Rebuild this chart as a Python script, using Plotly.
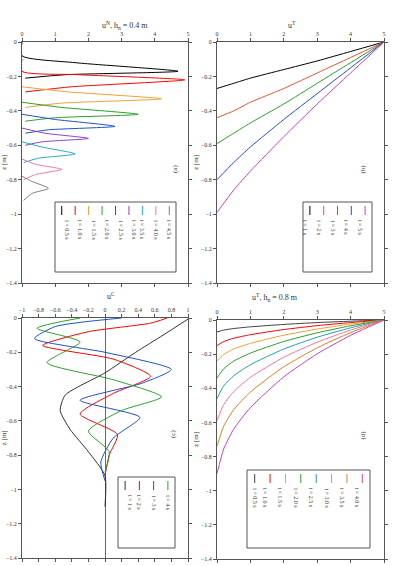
import plotly.graph_objects as go

# ---------------- data ----------------
# Panel (a): pulse profiles u^N(z)
a_names = ["t = 0.5 s", "t = 1.0 s", "t = 1.5 s", "t = 2.0 s", "t = 2.5 s",
           "t = 3.0 s", "t = 3.5 s", "t = 4.0 s", "t = 4.5 s"]
a_u = [
    [0, 0, 1.6, 4.7, 1.3, 0.1],
    [0, 0, 1.7, 4.9, 1.5, 0.1],
    [0, 1.4, 4.2, 1.2, 0.1],
    [0, 1.2, 3.5, 1.0, 0.1],
    [0, 1.0, 2.8, 0.8, 0.1],
    [0, 0.7, 2.0, 0.6, 0.1],
    [0, 0.6, 1.6, 0.5, 0.05],
    [0, 0.4, 1.2, 0.4, 0.05],
    [0, 0.3, 0.8, 0.3, 0.05],
]
a_z = [
    [0, -0.08, -0.12, -0.17, -0.19, -0.21],
    [-0.10, -0.17, -0.19, -0.22, -0.26, -0.29],
    [-0.26, -0.29, -0.33, -0.355, -0.38],
    [-0.35, -0.38, -0.42, -0.44, -0.46],
    [-0.42, -0.45, -0.49, -0.51, -0.53],
    [-0.50, -0.53, -0.56, -0.58, -0.60],
    [-0.58, -0.61, -0.65, -0.675, -0.70],
    [-0.68, -0.71, -0.74, -0.77, -0.80],
    [-0.78, -0.81, -0.85, -0.88, -0.92],
]
a_colors = ["black", "red", "#f0a030", "#2ca02c", "#1f4fd0", "#9040c0",
            "#20b0c0", "#ff70a0", "#808080"]

# Panel (b)
b_names = ["t = 1 s", "t = 2 s", "t = 3 s", "t = 4 s", "t = 5 s"]
b_u = [5, 4, 3, 2, 1, 0.5, 0]
b_z = [
    [0, -0.055, -0.11, -0.16, -0.21, -0.24, -0.27],
    [0, -0.09, -0.18, -0.27, -0.35, -0.40, -0.44],
    [0, -0.12, -0.24, -0.36, -0.47, -0.53, -0.59],
    [0, -0.15, -0.30, -0.45, -0.61, -0.70, -0.80],
    [0, -0.18, -0.36, -0.55, -0.75, -0.86, -0.99],
]
b_colors = ["black", "#f05030", "#2ca02c", "#1f4fd0", "#d040c0"]

# Panel (c)
c_names = ["t = 1 s", "t = 2 s", "t = 3 s", "t = 4 s"]
c_u = [
    [1.02, 0.70, 0.37, 0.0, -0.48, -0.54, -0.42, -0.20, 0.0, 0.0],
    [0.75, 0.55, -0.2, -0.75, 0.1, 0.55, 0.1, -0.30, 0.15, 0.05, 0],
    [0.2, -0.60, -0.85, 0.0, 0.80, 0.45, -0.30, 0.42, 0.10, -0.05, 0],
    [-0.3, -0.82, -0.3, -0.70, 0.1, 0.68, 0.2, -0.2, 0.05, 0],
]
c_z = [
    [0, -0.1, -0.2, -0.32, -0.45, -0.54, -0.65, -0.78, -0.92, -1.1],
    [0, -0.03, -0.08, -0.16, -0.24, -0.34, -0.44, -0.56, -0.68, -0.80, -0.92],
    [0, -0.05, -0.12, -0.20, -0.30, -0.38, -0.48, -0.58, -0.70, -0.84, -0.95],
    [0, -0.06, -0.14, -0.26, -0.36, -0.46, -0.54, -0.66, -0.78, -0.9],
]
c_colors = ["#303030", "red", "#1f4fd0", "#2ca02c"]

# Panel (d)
d_names = ["t = 0.5 s", "t = 1.0 s", "t = 1.5 s", "t = 2.0 s",
           "t = 2.5 s", "t = 3.0 s", "t = 3.5 s", "t = 4.0 s"]
d_u = [5, 4, 3, 2, 1, 0.5, 0.2, 0]
d_z = [
    [0, -0.007, -0.015, -0.026, -0.040, -0.050, -0.059, -0.07],
    [0, -0.015, -0.033, -0.056, -0.086, -0.107, -0.126, -0.15],
    [0, -0.024, -0.053, -0.089, -0.137, -0.170, -0.202, -0.24],
    [0, -0.034, -0.075, -0.126, -0.194, -0.241, -0.286, -0.34],
    [0, -0.046, -0.101, -0.170, -0.262, -0.327, -0.386, -0.46],
    [0, -0.059, -0.130, -0.218, -0.336, -0.419, -0.496, -0.59],
    [0, -0.074, -0.163, -0.274, -0.422, -0.525, -0.622, -0.74],
    [0, -0.090, -0.198, -0.333, -0.513, -0.639, -0.756, -0.90],
]
d_colors = ["#404040", "red", "#f0a030", "#2ca02c", "#20a0b0",
            "#ff70a0", "#e08020", "#d040c0"]

y_ticks = [0, -0.2, -0.4, -0.6, -0.8, -1.0, -1.2, -1.4]
x_ticks_0_5 = [0, 1, 2, 3, 4, 5]
x_ticks_c = [-1, -0.8, -0.6, -0.4, -0.2, 0, 0.2, 0.4, 0.6, 0.8, 1]

titles = ["u<sup>N</sup>, h<sub>n</sub> = 0.4 m", "u<sup>T</sup>",
          "u<sup>C</sup>", "u<sup>T</sup>, h<sub>n</sub> = 0.8 m"]
panel_labels = ["(a)", "(b)", "(c)", "(d)"]

FONT = "Liberation Serif"
fig = go.Figure()

def add_panel(us, zs, colors, names, ax, shared_u=False):
    for i in range(len(zs)):
        fig.add_trace(go.Scatter(
            x=us if shared_u else us[i], y=zs[i], mode="lines",
            line=dict(color=colors[i], width=1, shape="spline", smoothing=0.6),
            name=names[i], xaxis="x" + ax, yaxis="y" + ax, showlegend=False))

add_panel(a_u, a_z, a_colors, a_names, "")
add_panel(b_u, b_z, b_colors, b_names, "2", shared_u=True)
add_panel(c_u, c_z, c_colors, c_names, "3")
add_panel(d_u, d_z, d_colors, d_names, "4", shared_u=True)

W, H = 393, 566
dom = {
    "a": ([22 / W, 188 / W], [1 - 283 / H, 1 - 42 / H]),
    "b": ([217 / W, 384 / W], [1 - 283 / H, 1 - 42 / H]),
    "c": ([22 / W, 188 / W], [1 - 558 / H, 1 - 318 / H]),
    "d": ([217 / W, 384 / W], [1 - 559 / H, 1 - 320 / H]),
}

def xax(domain, rng, ticks, anchor, zl=False):
    return dict(domain=domain, range=rng, tickvals=ticks, side="top",
                anchor=anchor, showline=True, mirror="ticks", linecolor="#555",
                linewidth=1, ticks="outside", ticklen=3, tickcolor="#555",
                showgrid=False, zeroline=zl, zerolinecolor="#666", zerolinewidth=1,
                automargin=False,
                tickfont=dict(size=6, family=FONT, color="#333"))

def yax(domain, anchor):
    return dict(domain=domain, range=[-1.4, 0], tickvals=y_ticks, anchor=anchor,
                showline=True, mirror="ticks", linecolor="#555", linewidth=1,
                ticks="outside", ticklen=3, tickcolor="#555", showgrid=False,
                zeroline=False, automargin=False,
                tickfont=dict(size=6, family=FONT, color="#333"),
                title=dict(text="z [m]", standoff=1,
                           font=dict(size=7, family=FONT, color="#333")))

fig.update_layout(
    width=W, height=H, margin=dict(l=0, r=0, t=0, b=0),
    paper_bgcolor="white", plot_bgcolor="white", showlegend=False,
    xaxis=xax(dom["a"][0], [0, 5], x_ticks_0_5, "y"),
    yaxis=yax(dom["a"][1], "x"),
    xaxis2=xax(dom["b"][0], [0, 5], x_ticks_0_5, "y2"),
    yaxis2=yax(dom["b"][1], "x2"),
    xaxis3=xax(dom["c"][0], [-1, 1], x_ticks_c, "y3", zl=True),
    yaxis3=yax(dom["c"][1], "x3"),
    xaxis4=xax(dom["d"][0], [0, 5], x_ticks_0_5, "y4"),
    yaxis4=yax(dom["d"][1], "x4"),
)

title_pos = [(100, 18), (298, 18), (105, 296), (300, 297)]
label_pos = [(175, 163), (368, 163), (173, 440), (368, 442)]
for t, (px, py) in zip(titles, title_pos):
    fig.add_annotation(text=t, x=px / W, y=1 - py / H, xref="paper", yref="paper",
                       showarrow=False, font=dict(size=8, family=FONT, color="#333"))
for t, (px, py) in zip(panel_labels, label_pos):
    fig.add_annotation(text=t, x=px / W, y=1 - py / H, xref="paper", yref="paper",
                       showarrow=False, textangle=-90,
                       font=dict(size=7, family=FONT, color="#333"))

# legend boxes with vertical entries
legend_boxes = [
    (55, 176, 202, 272, a_names, a_colors),
    (303, 372, 202, 272, b_names, b_colors),
    (118, 175, 477, 548, c_names, c_colors),
    (247, 370, 470, 548, d_names, d_colors),
]
for x0, x1, y0, y1, names, cols in legend_boxes:
    fig.add_shape(type="rect", xref="paper", yref="paper",
                  x0=x0 / W, x1=x1 / W, y0=1 - y1 / H, y1=1 - y0 / H,
                  line=dict(color="#555", width=1), fillcolor="white")
    n = len(names)
    cw = (x1 - x0) / n
    for i, (nm, cl) in enumerate(zip(names, cols)):
        cx = x0 + (i + 0.5) * cw
        fig.add_shape(type="line", xref="paper", yref="paper",
                      x0=cx / W, x1=cx / W, y0=1 - (y0 + 4) / H, y1=1 - (y0 + 13) / H,
                      line=dict(color=cl, width=1))
        fig.add_annotation(text=nm, x=cx / W, y=1 - (y0 + 16) / H, xref="paper",
                           yref="paper", showarrow=False, textangle=90,
                           yanchor="top", font=dict(size=6, family=FONT, color="#333"))

fig.write_html("out.html", config={"displayModeBar": False},
               post_script="document.body.style.margin='0';document.body.style.overflow='hidden';")
